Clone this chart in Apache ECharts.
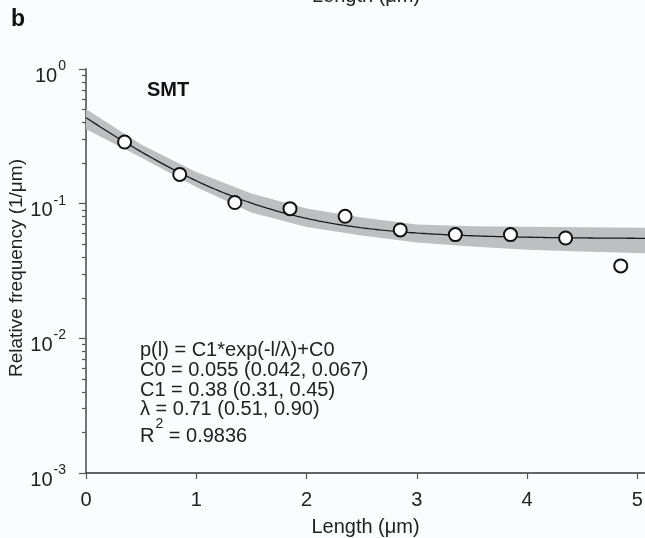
<!DOCTYPE html>
<html>
<head>
<meta charset="utf-8">
<script src="https://cdn.jsdelivr.net/npm/echarts@6/dist/echarts.min.js"></script>
<style>
  html, body { margin: 0; padding: 0; background: #fbfcfe; }
  #chart { width: 645px; height: 538px; }
</style>
</head>
<body>
<div id="chart"></div>
<script>
// SMT length distribution: bin centres (µm) and relative frequency (1/µm)
const lengths = [0.35, 0.85, 1.35, 1.85, 2.35, 2.85, 3.35, 3.85, 4.35, 4.85];
const frequencies = [0.287, 0.165, 0.102, 0.0918, 0.0806, 0.0638, 0.0589, 0.0589, 0.0556, 0.0345];

// Fit parameters of p(l) = C1*exp(-l/lambda) + C0
const C0 = 0.055;
const C1 = 0.38;
const LAMBDA = 0.71;

// Confidence band around the fit
const bandX = [0, 0.5, 1, 1.5, 2, 2.5, 3, 3.5, 4, 4.5, 5.07];
const bandUpper = [0.505, 0.275, 0.172, 0.119, 0.092, 0.079, 0.070, 0.068, 0.0674, 0.0669, 0.0663];
const bandLower = [0.357, 0.220, 0.133, 0.086, 0.067, 0.058, 0.0515, 0.048, 0.0455, 0.0442, 0.0428];

// Axis ticks
const xTicks = [0, 1, 2, 3, 4, 5];
const yDecades = [-3, -2, -1, 0];
const X_MAX = 5.07;

const FONT = '"Liberation Sans", Arial, Helvetica, sans-serif';
const FS = 20;
const lg = Math.log10;

// Minor ticks at 2..9 x 10^n, expressed in log10 space
const yMinor = [];
for (let n = -3; n < 0; n++) {
  for (let k = 2; k <= 9; k++) yMinor.push(lg(k * Math.pow(10, n)));
}

// Fitted curve from the stated parameters
const fitData = [];
for (let i = 0; i <= 200; i++) {
  const l = X_MAX * i / 200;
  fitData.push([l, lg(C1 * Math.exp(-l / LAMBDA) + C0)]);
}

const chart = echarts.init(document.getElementById('chart'));

const textLines = [
  { t: 'p(l) = C1*exp(-l/λ)+C0', y: 350 },
  { t: 'C0 = 0.055 (0.042, 0.067)', y: 370 },
  { t: 'C1 = 0.38 (0.31, 0.45)', y: 390 },
  { t: 'λ = 0.71 (0.51, 0.90)', y: 409 }
];

chart.setOption({
  backgroundColor: '#fbfcfe',
  animation: false,
  grid: { left: 86, right: 0, top: 69, bottom: 65, containLabel: false, outerBoundsMode: 'none' },
  xAxis: {
    type: 'value',
    min: 0,
    max: X_MAX,
    interval: 1,
    name: 'Length (μm)',
    nameLocation: 'middle',
    nameGap: 44,
    nameTextStyle: { fontFamily: FONT, fontSize: FS, color: '#222' },
    axisLine: { show: true, onZero: false, lineStyle: { color: '#333', width: 1.5 } },
    axisTick: { show: true, length: 6, customValues: xTicks, lineStyle: { color: '#555', width: 1.2 } },
    axisLabel: { customValues: xTicks, margin: 17, fontFamily: FONT, fontSize: FS, color: '#222' },
    splitLine: { show: false }
  },
  yAxis: [
    {
      type: 'value',
      min: -3,
      max: 0,
      interval: 1,
      position: 'left',
      axisLine: { show: true, onZero: false, lineStyle: { color: '#666', width: 1.8 } },
      axisTick: { show: true, length: 7, customValues: yDecades, lineStyle: { color: '#555', width: 1.2 } },
      axisLabel: {
        customValues: yDecades,
        margin: 20,
        formatter: v => '{a|10}{e|' + Math.round(v) + '}',
        rich: {
          a: { fontFamily: FONT, fontSize: FS, color: '#222', lineHeight: 20, padding: [14, 0, 0, 0] },
          e: { fontFamily: FONT, fontSize: 14, color: '#222', lineHeight: 20, padding: [4, 0, 10, 1] }
        }
      },
      splitLine: { show: false }
    },
    {
      type: 'value',
      min: -3,
      max: 0,
      position: 'left',
      axisLine: { show: false, onZero: false },
      axisTick: { show: true, length: 4, customValues: yMinor, lineStyle: { color: '#555', width: 1.2 } },
      axisLabel: { show: false },
      splitLine: { show: false }
    }
  ],
  series: [
    {
      type: 'custom',
      z: 1,
      silent: true,
      data: [[0, -1]],
      renderItem: (params, api) => {
        const pts = [];
        for (let i = 0; i < bandX.length; i++) pts.push(api.coord([bandX[i], lg(bandUpper[i])]));
        for (let i = bandX.length - 1; i >= 0; i--) pts.push(api.coord([bandX[i], lg(bandLower[i])]));
        return { type: 'polygon', shape: { points: pts }, style: { fill: '#bebfc1' } };
      }
    },
    {
      type: 'line',
      z: 2,
      data: fitData,
      showSymbol: false,
      lineStyle: { color: '#1a1a1a', width: 1.3 },
      silent: true
    },
    {
      type: 'scatter',
      z: 3,
      data: lengths.map((x, i) => [x, lg(frequencies[i])]),
      symbol: 'circle',
      symbolSize: 13,
      itemStyle: { color: '#ffffff', borderColor: '#111', borderWidth: 2, opacity: 1 }
    }
  ],
  graphic: [
    {
      type: 'text', left: 11, top: 8,
      style: { text: 'b', font: 'bold 23px ' + FONT, fill: '#111' }
    },
    {
      type: 'text', x: 366, y: -4,
      style: { text: 'Length (μm)', font: FS + 'px ' + FONT, fill: '#222', textAlign: 'center', textVerticalAlign: 'middle' }
    },
    {
      type: 'text', x: 17, y: 268, rotation: Math.PI / 2,
      style: { text: 'Relative frequency (1/μm)', font: '19px ' + FONT, fill: '#222', textAlign: 'center', textVerticalAlign: 'middle' }
    },
    {
      type: 'text', x: 147, y: 90,
      style: { text: 'SMT', font: 'bold ' + FS + 'px ' + FONT, fill: '#111', textVerticalAlign: 'middle' }
    }
  ].concat(textLines.map(d => ({
    type: 'text', x: 140, y: d.y,
    style: { text: d.t, font: FS + 'px ' + FONT, fill: '#222', textVerticalAlign: 'middle' }
  }))).concat([
    {
      type: 'text', x: 140, y: 431,
      style: {
        text: '{r|R}{s|2}{r| = 0.9836}',
        textVerticalAlign: 'middle',
        rich: {
          r: { fontFamily: FONT, fontSize: FS, fill: '#222', lineHeight: 20, padding: [10, 0, 0, 0] },
          s: { fontFamily: FONT, fontSize: 14, fill: '#222', lineHeight: 16, padding: [0, 0, 14, 1] }
        }
      }
    }
  ])
});
</script>
</body>
</html>
